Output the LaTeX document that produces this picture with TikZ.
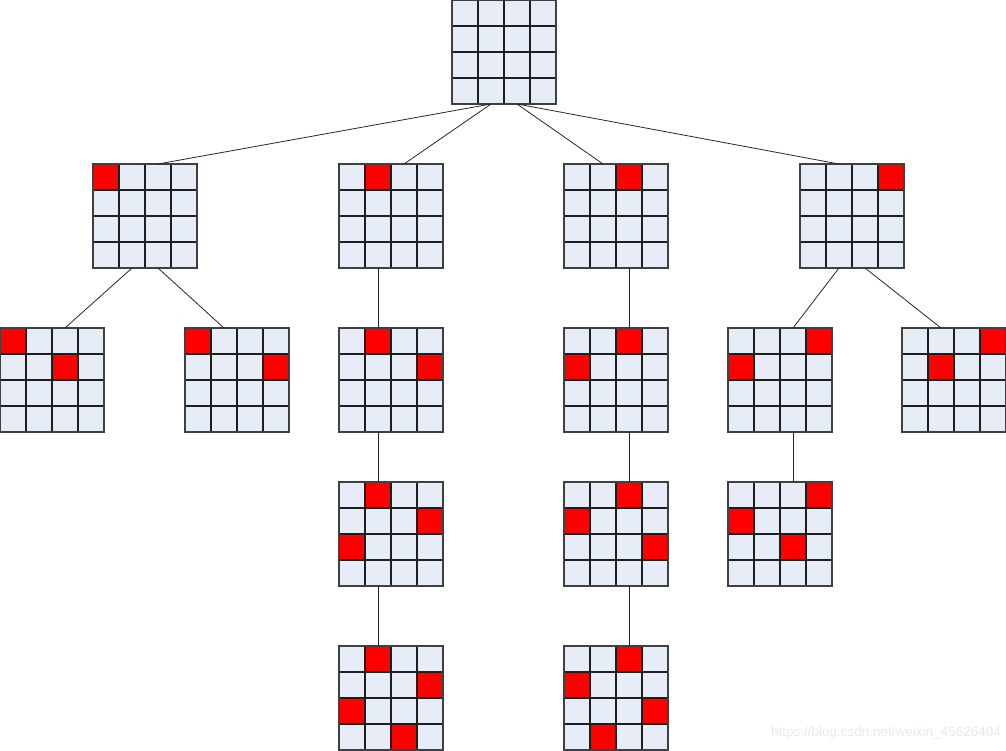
\documentclass[tikz,border=0pt]{standalone}
\usepackage{fontspec}
\setmainfont{Liberation Sans}
\usetikzlibrary{calc}
\definecolor{cellblue}{RGB}{231,237,247}
\definecolor{qred}{RGB}{255,0,0}
\definecolor{gridc}{RGB}{30,30,30}
\definecolor{wmark}{RGB}{232,232,232}
\tikzset{
  boardnode/.style={draw=none, fill=cellblue, minimum size=104pt, inner sep=0pt, outer sep=0pt},
  gridline/.style={draw=gridc, line width=1.1pt},
  borderline/.style={draw=black!75, line width=1.6pt},
  queen/.style={fill=qred},
  edge/.style={draw=black!85, line width=0.8pt},
  wm/.style={text=wmark, font=\fontsize{13.5}{16}\selectfont, anchor=east, inner sep=0pt}
}
\newcommand\qboard[4]{%
  \node[boardnode] (#1) at (#2+52,#3+52) {};
  \foreach \r/\c in {#4} {\fill[queen] ($(#1.north west)+(\c*26,\r*26)$) rectangle ++(26,26);}
  \foreach \k in {1,2,3} {
    \draw[gridline] ($(#1.north west)+(\k*26,0)$) -- ($(#1.south west)+(\k*26,0)$);
    \draw[gridline] ($(#1.north west)+(0,\k*26)$) -- ($(#1.north east)+(0,\k*26)$);
  }
  \draw[borderline] (#1.north west) rectangle (#1.south east);
  \coordinate (#1-t1) at ($(#1.north west)+(39,0)$);
  \coordinate (#1-t2) at ($(#1.north west)+(65,0)$);
  \coordinate (#1-b1) at ($(#1.south west)+(39,0)$);
  \coordinate (#1-b2) at ($(#1.south west)+(65,0)$);
}
\newcommand\eboard[3]{%
  \node[boardnode] (#1) at (#2+52,#3+52) {};
  \foreach \k in {1,2,3} {
    \draw[gridline] ($(#1.north west)+(\k*26,0)$) -- ($(#1.south west)+(\k*26,0)$);
    \draw[gridline] ($(#1.north west)+(0,\k*26)$) -- ($(#1.north east)+(0,\k*26)$);
  }
  \draw[borderline] (#1.north west) rectangle (#1.south east);
  \coordinate (#1-b1) at ($(#1.south west)+(39,0)$);
  \coordinate (#1-b2) at ($(#1.south west)+(65,0)$);
}
\begin{document}
\begin{tikzpicture}[x=1pt,y=-1pt]
\useasboundingbox (0,0) rectangle (1006,750);
% boards
\eboard{root}{452}{0}
\qboard{A}{93}{164}{0/0}
\qboard{B}{339}{164}{0/1}
\qboard{C}{564}{164}{0/2}
\qboard{D}{800}{164}{0/3}
\qboard{A1}{0}{328}{0/0,1/2}
\qboard{A2}{185}{328}{0/0,1/3}
\qboard{B1}{339}{328}{0/1,1/3}
\qboard{C1}{564}{328}{0/2,1/0}
\qboard{D1}{728}{328}{0/3,1/0}
\qboard{D2}{902}{328}{0/3,1/1}
\qboard{B2}{339}{482}{0/1,1/3,2/0}
\qboard{C2}{564}{482}{0/2,1/0,2/3}
\qboard{D3}{728}{482}{0/3,1/0,2/2}
\qboard{B3}{339}{646}{0/1,1/3,2/0,3/2}
\qboard{C3}{564}{646}{0/2,1/0,2/3,3/1}
% connectors
\draw[edge] (root-b1) -- (A-t2);
\draw[edge] (root-b1) -- (B-t2);
\draw[edge] (root-b2) -- (C-t1);
\draw[edge] (root-b2) -- (D-t1);
\draw[edge] (A-b1) -- (A1-t2);
\draw[edge] (A-b2) -- (A2-t1);
\draw[edge] (B-b1) -- (B1-t1);
\draw[edge] (B1-b1) -- (B2-t1);
\draw[edge] (B2-b1) -- (B3-t1);
\draw[edge] (C-b2) -- (C1-t2);
\draw[edge] (C1-b2) -- (C2-t2);
\draw[edge] (C2-b2) -- (C3-t2);
\draw[edge] (D-b1) -- (D1-t2);
\draw[edge] (D-b2) -- (D2-t1);
\draw[edge] (D1-b2) -- (D3-t2);
% watermark
\node[wm] (wmk) at (1001,733) {https://blog.csdn.net/weixin\_45626404};
\end{tikzpicture}
\end{document}
